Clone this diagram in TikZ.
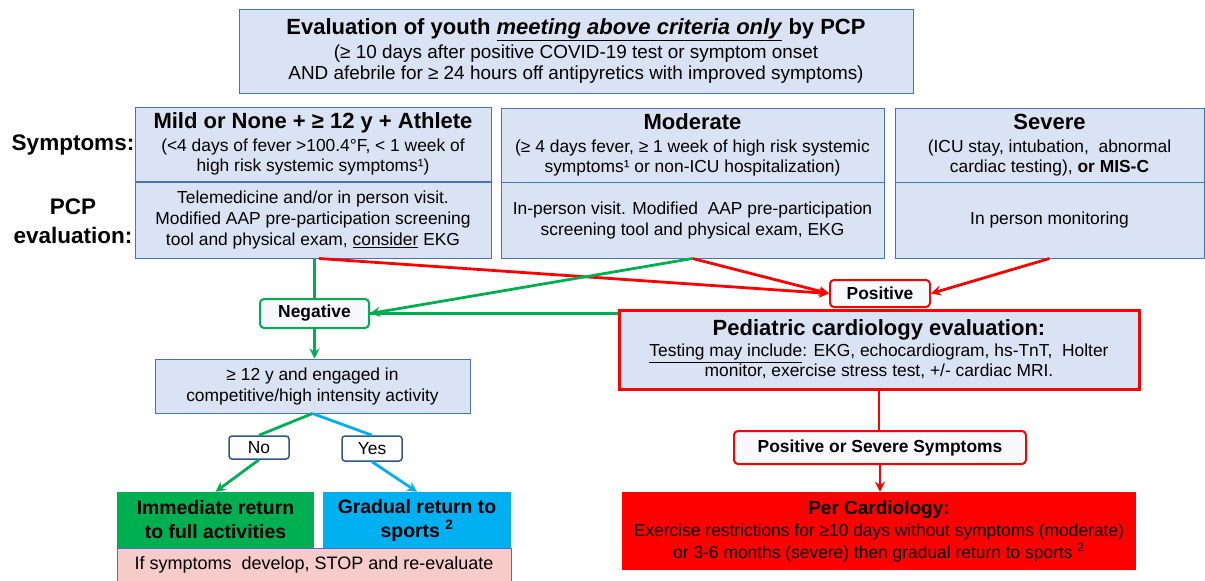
\documentclass[tikz,border=0pt]{standalone}
\usepackage{fontspec}
\setmainfont{Liberation Sans}
\usetikzlibrary{arrows.meta}
\definecolor{boxfill}{HTML}{DAE3F3}
\definecolor{boxline}{HTML}{4472C4}
\definecolor{grn}{HTML}{00B050}
\definecolor{rd}{HTML}{FF0000}
\definecolor{blu}{HTML}{00B0F0}
\definecolor{pnk}{HTML}{F8CBCB}
\definecolor{lbl}{HTML}{2F5597}
\definecolor{pale}{HTML}{F8F9FC}
\newcommand{\hd}[1]{{\fontsize{22}{25}\selectfont\bfseries #1}}
\begin{document}
\begin{tikzpicture}[x=1pt,y=-1pt,
  bluebox/.style={draw=boxline, fill=boxfill, line width=1pt, inner sep=0pt, align=center,
     font=\fontsize{17.4}{20}\selectfont},
  rbox/.style={draw=#1, fill=pale, line width=2pt, rounded corners=4pt, inner sep=0pt, align=center,
     font=\fontsize{17.4}{20}\selectfont\bfseries},
  tag/.style={draw=lbl, fill=white, line width=1.5pt, rounded corners=3pt, inner sep=0pt,
     font=\fontsize{17.4}{20}\selectfont},
  sidelbl/.style={align=center, inner sep=0pt, font=\fontsize{22.5}{29}\selectfont\bfseries},
  ln/.style={line width=2.8pt, draw=#1},
  ar/.style={line width=2.8pt, draw=#1, -{Stealth[length=10pt,width=10pt]}}
]
\useasboundingbox (0,0) rectangle (1205,581);

% top box
\node[bluebox, minimum width=674pt, minimum height=84pt, font=\fontsize{18.9}{21.5}\selectfont] (top) at (576,51)
  {\hd{Evaluation of youth \underline{\textit{meeting above criteria only}} by PCP}\\[2pt]
   (≥ 10 days after positive COVID-19 test or symptom onset\\
   AND afebrile for ≥ 24 hours off antipyretics with improved symptoms)};

% side labels
\node[sidelbl] (symlbl) at (73,145) {Symptoms:};
\node[sidelbl] (pcplbl) at (73,221) {PCP\\evaluation:};

% column boxes
\node[bluebox, minimum width=356pt, minimum height=74pt] (mildT) at (313,144)
  {\hd{Mild or None + ≥ 12 y + Athlete}\\[3pt]
   (<4 days of fever >100.4°F, < 1 week of\\
   high risk systemic symptoms¹)};
\node[bluebox, minimum width=356pt, minimum height=76pt, font=\fontsize{17.4}{21}\selectfont] (mildB) at (313,220)
  {Telemedicine and/or in person visit.\\
   Modified AAP pre-participation screening\\
   tool and physical exam, \underline{consider} EKG};

\node[bluebox, minimum width=383pt, minimum height=74pt] (modT) at (692.5,145)
  {\hd{Moderate}\\[3pt]
   (≥ 4 days fever, ≥ 1 week of high risk systemic\\
   symptoms¹ or non-ICU hospitalization)};
\node[bluebox, minimum width=383pt, minimum height=76pt, font=\fontsize{17.4}{21}\selectfont] (modB) at (692.5,220)
  {In-person visit. Modified\ \ AAP pre-participation\\
   screening tool and physical exam, EKG};

\node[bluebox, minimum width=309pt, minimum height=74pt] (sevT) at (1049.5,145)
  {\hd{Severe}\\[3pt]
   (ICU stay, intubation,\ \ abnormal\\
   cardiac testing), \textbf{or MIS-C}};
\node[bluebox, minimum width=309pt, minimum height=76pt] (sevB) at (1049.5,220)
  {In person monitoring};

% decision nodes
\node[rbox=grn, minimum width=109pt, minimum height=29pt] (neg) at (314.5,313.5) {Negative};
\node[rbox=rd, minimum width=100pt, minimum height=27pt] (pos) at (880,293.5) {Positive};

\node[bluebox, draw=rd, line width=3pt, minimum width=520pt, minimum height=79pt] (ped) at (879,349.5)
  {{\fontsize{22}{25}\selectfont\bfseries Pediatric cardiology evaluation:}\\[1pt]
   \underline{Testing may include}: EKG, echocardiogram, hs-TnT,\ \ Holter\\
   monitor, exercise stress test, +/- cardiac MRI.};

\node[bluebox, minimum width=315pt, minimum height=54pt, font=\fontsize{17.4}{21}\selectfont] (ge12) at (312.5,386)
  {≥ 12 y and engaged in\\competitive/high intensity activity};

\node[tag, minimum width=60pt, minimum height=23pt] (no) at (259,447.5) {No};
\node[tag, minimum width=60pt, minimum height=25pt] (yes) at (372,448.5) {Yes};

\node[fill=grn, inner sep=0pt, minimum width=197pt, minimum height=56pt, align=center,
  font=\fontsize{19.4}{24}\selectfont\bfseries] (imm) at (215.5,520)
  {Immediate return\\to full activities};
\node[fill=blu, inner sep=0pt, minimum width=188pt, minimum height=56pt, align=center,
  font=\fontsize{19.4}{24}\selectfont\bfseries] (grad) at (417,520)
  {Gradual return to\\sports \textsuperscript{2}};
\node[draw=boxline, line width=1pt, fill=pnk, inner sep=0pt, minimum width=394pt, minimum height=33pt,
  font=\fontsize{18}{20}\selectfont] (pink) at (314,565)
  {If symptoms\ \ develop, STOP and re-evaluate};

\node[rbox=rd, minimum width=292pt, minimum height=33pt] (pss) at (880,447.5) {Positive or Severe Symptoms};

\node[fill=rd, inner sep=0pt, minimum width=514pt, minimum height=78pt, align=center,
  font=\fontsize{17.4}{22}\selectfont] (perc) at (879,531)
  {{\fontsize{19}{22}\selectfont\bfseries Per Cardiology:}\\
   Exercise restrictions for ≥10 days without symptoms (moderate)\\
   or 3-6 months (severe) then gradual return to sports \textsuperscript{2}};

% connectors
\draw[ar=rd] ([xshift=6pt]mildB.south) -- (pos.west);
\draw[ar=rd] (modB.south) -- (pos.west);
\draw[ar=rd] (sevB.south) -- (pos.east);
\draw[ln=grn] (neg.north |- mildB.south) -- (neg.north);
\draw[ar=grn] (modB.south) -- (neg.east);
\draw[ln=grn] (ped.west |- neg.east) -- (neg.east);
\draw[ar=grn] (neg.south) -- (neg.south |- ge12.north);
\draw[ln=rd] (ped.south) -- (ped.south |- pss.north);
\draw[ar=rd] (pss.south) -- (pss.south |- perc.north);
\draw[ln=grn] (ge12.south) -- (no.north);
\draw[ar=grn] (no.south) -- (imm.north);
\draw[ln=blu] (ge12.south) -- (yes.north);
\draw[ar=blu] (yes.south) -- (grad.north);
\end{tikzpicture}
\end{document}
